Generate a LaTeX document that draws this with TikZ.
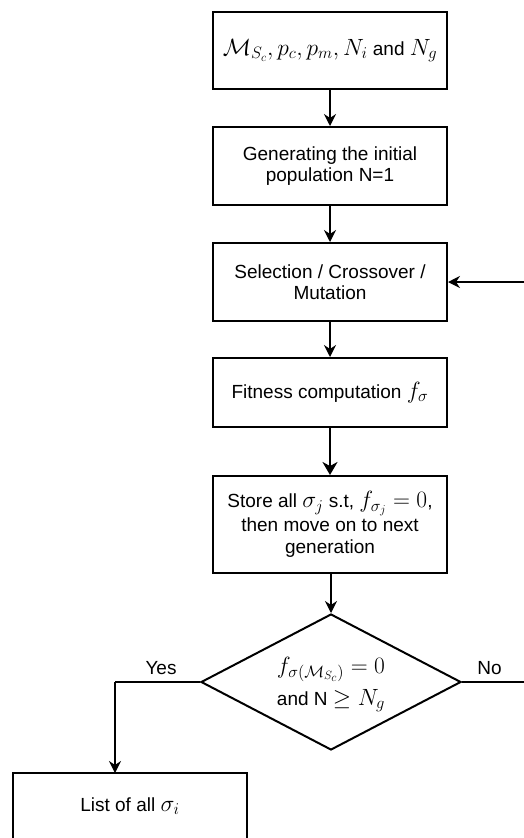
\RequirePackage{fix-cm}
\documentclass[tikz,border=0pt]{standalone}
\usepackage[no-math]{fontspec}
\setmainfont{Liberation Sans}
\DeclareMathSizes{19}{23.5}{16.5}{12}
\usetikzlibrary{arrows.meta,shapes.geometric}
\begin{document}
\begin{tikzpicture}[x=1pt,y=-1pt,
  every node/.style={font=\fontsize{19}{21.5}\selectfont},
  procbox/.style={draw,line width=2pt,minimum width=234pt,inner sep=0pt,align=center},
  decbox/.style={draw,line width=2pt,shape=diamond,minimum width=260pt,minimum height=136pt,inner sep=0pt,aspect=1.9},
  conn/.style={line width=1.3pt,-{Stealth[length=12pt,width=12pt,inset=4pt]}},
  thickconn/.style={line width=2.2pt,-{Stealth[length=13pt,width=15pt,inset=4pt]}},
  plainline/.style={line width=1.3pt},
  lbl/.style={inner sep=0pt}]
\useasboundingbox (0,0) rectangle (523,838);
\node[procbox,minimum height=77pt] (b1) at (330,50.5) {$\mathcal{M}_{S_c}, p_c, p_m, N_i$ and $N_g$};
\node[procbox,minimum height=78pt] (b2) at (330,166) {Generating the initial\\population N=1};
\node[procbox,minimum height=78pt] (b3) at (330,282) {Selection / Crossover /\\Mutation};
\node[procbox,minimum height=69pt] (b4) at (330,392.5) {Fitness computation $f_\sigma$};
\node[procbox,minimum height=97pt] (b5) at (330,524.5) {Store all $\sigma_j$ s.t, $f_{\sigma_j}=0$,\\[1pt]then move on to next\\generation};
\node[decbox] (d) at (331,682) {};
\node[lbl,anchor=base] (dt1) at (331,673) {$f_{\sigma(\mathcal{M}_{S_c})}=0$};
\node[lbl,anchor=base] (dt2) at (331,705) {and N $\geq N_g$};
\node[procbox,minimum height=70pt] (b6) at (130,808) {};
\node[lbl] (b6t) at (130,806) {List of all $\sigma_i$};
\node[lbl] (yes) at (161,668) {Yes};
\node[lbl] (no) at (489.5,668) {No};
\coordinate (yescorner) at (115,682);
\coordinate (yestop) at (115,773);
\coordinate (noend) at (530,682);
\coordinate (retstart) at (530,282);
\draw[conn] (b1) -- (b2);
\draw[conn] (b2) -- (b3);
\draw[conn] (b3) -- (b4);
\draw[thickconn] (b4) -- (b5);
\draw[conn] (b5.south -| d.north) -- (d.north);
\draw[plainline] (d.west) -- (yescorner);
\draw[conn] (yescorner) -- (yestop);
\draw[plainline] (d.east) -- (noend);
\draw[conn] (retstart) -- (b3.east);
\end{tikzpicture}
\end{document}
